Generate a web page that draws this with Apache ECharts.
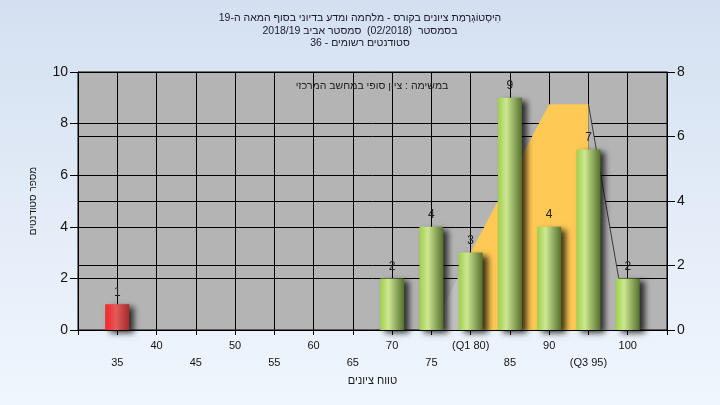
<!DOCTYPE html>
<html><head><meta charset="utf-8">
<script src="https://cdn.jsdelivr.net/npm/echarts@6/dist/echarts.min.js"></script>
<style>html,body{margin:0;padding:0;}#c{width:720px;height:405px;}</style>
</head><body><div id="c"></div>
<script>
// ---- data ----
const titleLines = ['הִיסְטוֹגְרָמַת ציונים בקורס - מלחמה ומדע בדיוני בסוף המאה ה-19', 'בסמסטר  (02/2018)  סמסטר אביב 2018/19', 'סטודנטים רשומים - 36'];
const noteText = 'במשימה : ציון סופי במחשב המרכזי';
const yName = 'מספר סטודנטים';
const xName = 'טווח ציונים';
const scores = [35, 70, 75, 80, 85, 90, 95, 100];
const counts = [1, 2, 4, 3, 9, 4, 7, 2];
const passMark = 55;
const q1 = 80, q3 = 95;
const curveX = [75, 80, 85, 90, 95, 100];
const curveY = [0, 2.4, 4.7, 7, 7, 0];
const xMin = 30, xMax = 105, xStep = 5;
const yLeftMax = 10, yRightMax = 8;

const chart = echarts.init(document.getElementById('c'));
const G = echarts.graphic.LinearGradient;
const green = new G(0, 0, 1, 0, [{offset: 0, color: '#9fcf4c'}, {offset: 0.35, color: '#cde791'}, {offset: 1, color: '#55702d'}]);
const red = new G(0, 0, 1, 0, [{offset: 0, color: '#f52525'}, {offset: 0.45, color: '#e25a5a'}, {offset: 1, color: '#a42a2a'}]);

const pts = curveX.map((x, i) => [x, curveY[i]]);
const leftSeg = pts.filter(p => p[0] <= q1);
const midSeg = pts.filter(p => p[0] >= q1 && p[0] <= q3);
const rightSeg = pts.filter(p => p[0] >= q3);

function xLabel(v) {
  if (v <= xMin || v >= xMax) return '';
  let t = String(v);
  if (v === q1) t = '(Q1 ' + v + ')';
  if (v === q3) t = '(Q3 ' + v + ')';
  return (v % 10 === 5) ? '\n' + t : t;
}

const txt = '#141414';
const font = 'Liberation Sans, Arial, sans-serif';

chart.setOption({
  backgroundColor: new G(0, 0, 0, 1, [{offset: 0, color: '#d4e0f1'}, {offset: 1, color: '#f0f6fd'}]),
  animation: false,
  title: {
    text: titleLines.join('\n'), left: 'center', top: 7,
    textStyle: {fontSize: 10.5, fontWeight: 'normal', color: '#1a1a2a', lineHeight: 12.5, fontFamily: font}
  },
  graphic: [{
    type: 'text', x: 372, y: 86, z: 10,
    style: {text: noteText, fill: '#222', font: '10.5px ' + font, textAlign: 'center', textVerticalAlign: 'middle'}
  }],
  grid: {left: 78, right: 53, top: 72, bottom: 75, show: true, backgroundColor: '#b4b4b4', borderColor: '#000', borderWidth: 1},
  xAxis: {
    type: 'value', min: xMin, max: xMax, interval: xStep,
    name: xName, nameLocation: 'middle', nameGap: 45,
    nameTextStyle: {fontSize: 11, color: '#1a1a1a', fontFamily: font},
    axisLine: {lineStyle: {color: '#000'}},
    axisTick: {length: 5, lineStyle: {color: '#000'}},
    splitLine: {show: true, lineStyle: {color: '#000', width: 1}},
    axisLabel: {formatter: xLabel, fontSize: 11, lineHeight: 17, margin: 7, color: txt, fontFamily: font, showMinLabel: true, showMaxLabel: true}
  },
  yAxis: [{
    type: 'value', min: 0, max: yLeftMax, interval: 2, position: 'left',
    name: yName, nameLocation: 'middle', nameGap: 40, nameRotate: 90,
    nameTextStyle: {fontSize: 10, color: '#1a1a1a', fontFamily: font},
    axisLine: {show: true, lineStyle: {color: '#000'}},
    axisTick: {show: true, length: 8, lineStyle: {color: '#000'}},
    splitLine: {show: true, lineStyle: {color: '#000'}},
    axisLabel: {fontSize: 14, margin: 10, color: txt, fontFamily: font}
  }, {
    type: 'value', min: 0, max: yRightMax, interval: 2, position: 'right',
    axisLine: {show: true, lineStyle: {color: '#000'}},
    axisTick: {show: true, length: 8, lineStyle: {color: '#000'}},
    splitLine: {show: true, lineStyle: {color: '#000'}},
    axisLabel: {fontSize: 14, margin: 10, color: txt, fontFamily: font}
  }],
  series: [
    {type: 'line', yAxisIndex: 1, data: leftSeg, showSymbol: false, z: 2,
     lineStyle: {width: 0}, areaStyle: {color: '#c1c1c1', opacity: 1}},
    {type: 'line', yAxisIndex: 1, data: midSeg, showSymbol: false, z: 2,
     lineStyle: {width: 0}, areaStyle: {color: '#ffc955', opacity: 1}},
    {type: 'line', yAxisIndex: 1, data: rightSeg, showSymbol: false, z: 2,
     lineStyle: {width: 1, color: '#3a3a3a'}, areaStyle: {color: '#b4b4b4', opacity: 1}},
    {type: 'bar', yAxisIndex: 0, barWidth: 24, z: 4,
     data: scores.map((s, i) => ({value: [s, counts[i]], itemStyle: {color: s < passMark ? red : green}})),
     itemStyle: {shadowColor: 'rgba(0,0,0,0.75)', shadowBlur: 6, shadowOffsetX: 5, shadowOffsetY: 3},
     label: {show: true, position: 'top', distance: 6, fontSize: 12, color: '#222', fontFamily: font,
             formatter: p => p.value[1]}}
  ]
});
</script></body></html>
